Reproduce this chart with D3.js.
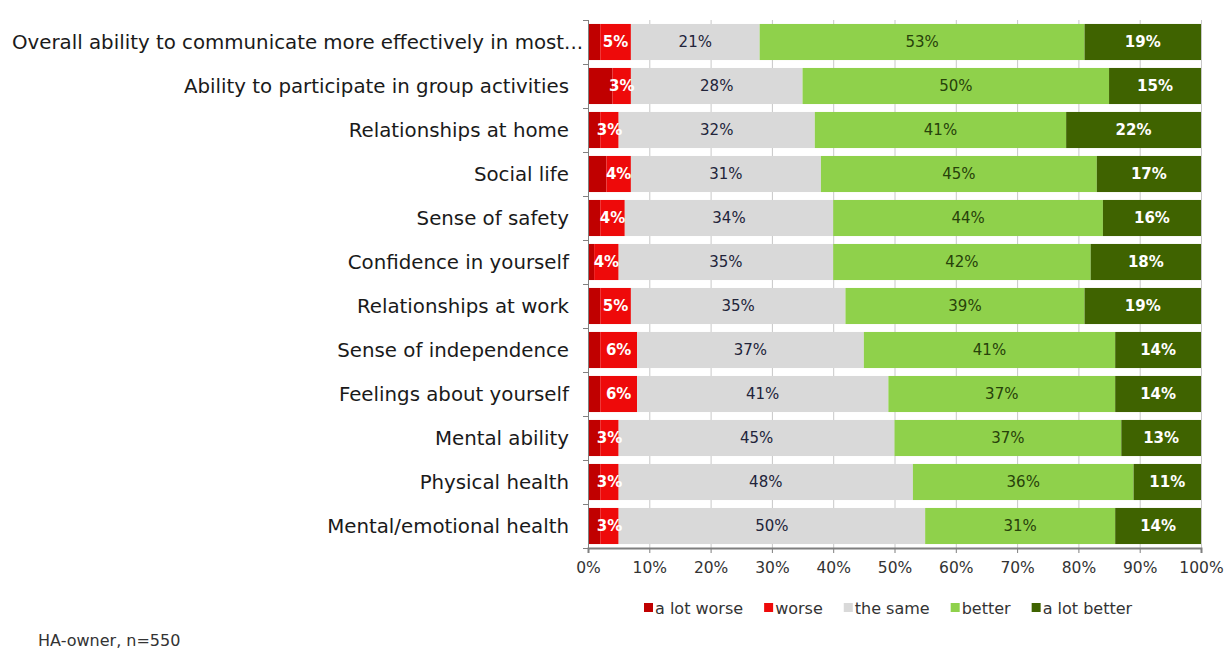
<!DOCTYPE html>
<html><head><meta charset="utf-8">
<script src="https://cdn.jsdelivr.net/npm/d3@7"></script>
<style>body{margin:0;background:#fff}svg{display:block}</style>
</head><body>
<svg id="c" width="1227" height="651"></svg>
<script>
const categories = [
  "Overall ability to communicate more effectively in most...",
  "Ability to participate in group activities",
  "Relationships at home",
  "Social life",
  "Sense of safety",
  "Confidence in yourself",
  "Relationships at work",
  "Sense of independence",
  "Feelings about yourself",
  "Mental ability",
  "Physical health",
  "Mental/emotional health"
];
const seriesNames = ["a lot worse","worse","the same","better","a lot better"];
const aLotWorse   = [2, 4, 2, 3, 2, 1, 2, 2, 2, 2, 2, 2];
const worse       = [5, 3, 3, 4, 4, 4, 5, 6, 6, 3, 3, 3];
const theSame     = [21, 28, 32, 31, 34, 35, 35, 37, 41, 45, 48, 50];
const better      = [53, 50, 41, 45, 44, 42, 39, 41, 37, 37, 36, 31];
const aLotBetter  = [19, 15, 22, 17, 16, 18, 19, 14, 14, 13, 11, 14];
const xTicks = [0,10,20,30,40,50,60,70,80,90,100];
const footnote = "HA-owner, n=550";

const colors = ["#c00000","#ee0a0a","#d9d9d9","#8fd14b","#3f6300"];
const labelColors = [null,"#ffffff","#22243a","#27420a","#ffffff"];
const showLabel = [false,true,true,true,true];

const seriesArrays = [aLotWorse, worse, theSame, better, aLotBetter];
const rows = categories.map((c,i)=>{
  const o = {cat:c};
  seriesNames.forEach((s,j)=>o[s]=seriesArrays[j][i]);
  return o;
});
const stack = d3.stack().keys(seriesNames)(rows);

const svg = d3.select("#c");
const font = "DejaVu Sans, Verdana, sans-serif";
const x0 = 588, x1 = 1201, yTop = 20, yBot = 548;
const x = d3.scaleLinear().domain([0,100]).range([x0,x1]);
const y = d3.scaleBand().domain(categories).range([yTop,yBot]).paddingInner(0.18).paddingOuter(0.09);

// gridlines
svg.append("g").selectAll("line").data(xTicks.slice(1)).join("line")
  .attr("x1",d=>x(d)+0.5).attr("x2",d=>x(d)+0.5)
  .attr("y1",yTop).attr("y2",yBot)
  .attr("stroke","#c8c8c8").attr("stroke-width",1);

// bars
const g = svg.append("g");
stack.forEach((layer,j)=>{
  g.append("g").selectAll("rect").data(layer).join("rect")
    .attr("x",d=>x(d[0])).attr("width",d=>x(d[1])-x(d[0]))
    .attr("y",d=>y(d.data.cat)).attr("height",y.bandwidth())
    .attr("fill",colors[j]);
});
// labels
stack.forEach((layer,j)=>{
  if(!showLabel[j]) return;
  g.append("g").selectAll("text").data(layer).join("text")
    .attr("x",d=>(x(d[0])+x(d[1]))/2)
    .attr("y",d=>y(d.data.cat)+y.bandwidth()/2)
    .attr("dy","0.36em")
    .attr("text-anchor","middle")
    .attr("font-family",font).attr("font-size",15)
    .attr("font-weight", (j===1||j===4)?"bold":"normal")
    .attr("fill",labelColors[j])
    .text(d=>(d[1]-d[0])+"%");
});

// left axis
const ya = svg.append("g");
ya.append("line").attr("x1",x0+0.5).attr("x2",x0+0.5).attr("y1",yTop).attr("y2",yBot).attr("stroke","#808080");
const step = y.step();
d3.range(categories.length+1).forEach(i=>{
  const yy = Math.round(yTop + i*step)+0.5;
  ya.append("line").attr("x1",x0-5).attr("x2",x0).attr("y1",yy).attr("y2",yy).attr("stroke","#808080");
});
ya.selectAll("text").data(categories).join("text")
  .attr("x",569).attr("y",d=>y(d)+y.bandwidth()/2).attr("dy","0.35em")
  .attr("text-anchor","end").attr("font-family",font).attr("font-size",19.8)
  .attr("fill","#1a1a1a").text(d=>d)
  .each(function(){
    const w = this.getComputedTextLength();
    if (w > 556) d3.select(this).attr("text-anchor","start").attr("x",12);
  });

// bottom axis
const xa = svg.append("g").attr("transform",`translate(0,${yBot})`)
  .call(d3.axisBottom(x).tickValues(xTicks).tickFormat(d=>d+"%").tickSize(5).tickPadding(9));
xa.select(".domain").attr("stroke","#7f7f7f").attr("stroke-width",2);
xa.selectAll(".tick line").attr("stroke","#7f7f7f");
xa.selectAll("text").attr("font-family",font).attr("font-size",15.5).attr("fill","#333");

// legend
const legend = svg.append("g");
const legendItems = seriesNames.map((s,i)=>({s,c:colors[i]}));
let lx = 644;
const ly = 608;
legendItems.forEach(it=>{
  legend.append("rect").attr("x",lx).attr("y",ly-5).attr("width",9).attr("height",9).attr("fill",it.c);
  const t = legend.append("text").attr("x",lx+11).attr("y",ly).attr("dy","0.35em")
    .attr("font-family",font).attr("font-size",16).attr("fill","#333").text(it.s);
  lx += 11 + t.node().getComputedTextLength() + 21;
});

svg.append("text").attr("x",38).attr("y",640).attr("dy","0.35em")
  .attr("font-family",font).attr("font-size",16).attr("fill","#333").text(footnote);
</script>
</body></html>
